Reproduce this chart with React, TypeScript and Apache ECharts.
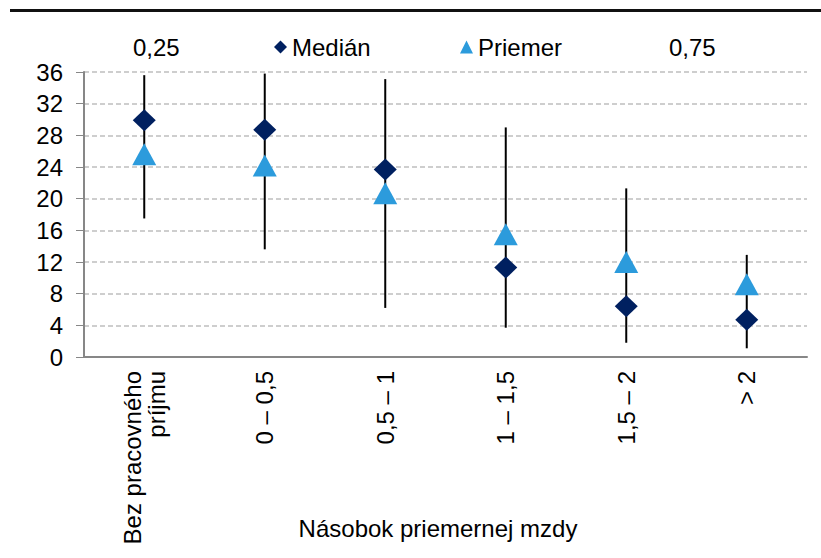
import React, { useEffect, useRef } from "react";
import * as echarts from "echarts";

const categories = ["Bez pracovného\npríjmu", "0 – 0,5", "0,5 – 1", "1 – 1,5", "1,5 – 2", "> 2"];
const q25 = [17.5, 13.6, 6.2, 3.7, 1.8, 1.1];
const q75 = [35.6, 35.8, 35.1, 29.0, 21.3, 12.9];
const median = [29.9, 28.7, 23.7, 11.3, 6.4, 4.7];
const mean = [25.6, 24.2, 20.7, 15.5, 12.0, 9.2];
const yTicks = { min: 0, max: 36, interval: 4 };
const xName = "Násobok priemernej mzdy";

const FONT = "Liberation Sans, Arial, sans-serif";
const FS = 24;

export default function App() {
  const ref = useRef<HTMLDivElement>(null);
  useEffect(() => {
    document.body.style.margin = "0";
    const chart = echarts.init(ref.current!, null, { renderer: "svg" });
    const lineItem = (fromArr: number[], toArr: number[]) =>
      categories.map((_, i) => [i, fromArr[i], toArr[i]]);
    const renderLine = (params: any, api: any) => {
      const a = api.coord([api.value(0), api.value(1)]);
      const b = api.coord([api.value(0), api.value(2)]);
      return {
        type: "line",
        shape: { x1: a[0], y1: a[1], x2: b[0], y2: b[1] },
        style: { stroke: "#000", lineWidth: 2 },
      };
    };
    const legendBase = {
      orient: "horizontal",
      padding: 0,
      top: 35,
      itemHeight: 13,
      itemWidth: 13,
      textStyle: { fontSize: FS, color: "#000", fontFamily: FONT },
      selectedMode: false,
    };
    chart.setOption({
      animation: false,
      textStyle: { fontFamily: FONT },
      graphic: [
        {
          type: "rect",
          shape: { x: 10, y: 9, width: 811, height: 3 },
          style: { fill: "#111" },
        },
        {
          type: "text",
          x: 438,
          y: 528,
          style: {
            text: xName,
            fontSize: FS,
            fontFamily: FONT,
            fill: "#000",
            align: "center",
            verticalAlign: "middle",
          },
        },
      ],
      legend: [
        { ...legendBase, left: 115, data: [{ name: "0,25", icon: "none" }] },
        { ...legendBase, left: 274, data: [{ name: "Medián", icon: "diamond" }] },
        { ...legendBase, left: 460, data: [{ name: "Priemer", icon: "triangle" }] },
        { ...legendBase, left: 651, data: [{ name: "0,75", icon: "none" }] },
      ],
      grid: {
        left: 84,
        right: 14,
        top: 72,
        bottom: 201,
        containLabel: false,
        outerBoundsMode: "none",
      },
      xAxis: {
        type: "category",
        data: categories,
        axisLine: { lineStyle: { color: "#878787", width: 2 } },
        axisTick: { length: 6, lineStyle: { color: "#878787", width: 1 } },
        axisLabel: {
          rotate: 90,
          fontSize: FS,
          color: "#000",
          fontFamily: FONT,
          margin: 14,
          lineHeight: 24,
        },
      },
      yAxis: {
        type: "value",
        min: yTicks.min,
        max: yTicks.max,
        interval: yTicks.interval,
        axisLine: { show: true, lineStyle: { color: "#878787", width: 2 } },
        axisTick: { show: true, length: 8, lineStyle: { color: "#878787" } },
        axisLabel: { fontSize: FS, color: "#000", fontFamily: FONT, margin: 21 },
        splitLine: {
          lineStyle: { color: "#bfbfbf", type: [5, 3], width: 1.5 },
        },
      },
      series: [
        {
          name: "0,25",
          type: "custom",
          renderItem: renderLine,
          data: lineItem(q25, median),
          encode: { x: 0, y: [1, 2] },
          itemStyle: { color: "#000" },
          z: 2,
        },
        {
          name: "0,75",
          type: "custom",
          renderItem: renderLine,
          data: lineItem(median, q75),
          encode: { x: 0, y: [1, 2] },
          itemStyle: { color: "#000" },
          z: 2,
        },
        {
          name: "Medián",
          type: "scatter",
          data: median,
          symbol: "diamond",
          symbolSize: [23, 22],
          itemStyle: { color: "#002060", opacity: 1 },
          z: 3,
        },
        {
          name: "Priemer",
          type: "scatter",
          data: mean,
          symbol: "triangle",
          symbolSize: [24, 22],
          itemStyle: { color: "#2C9BDC", opacity: 1 },
          z: 4,
        },
      ],
    });
    return () => chart.dispose();
  }, []);
  return <div ref={ref} style={{ width: 821, height: 558 }} />;
}
